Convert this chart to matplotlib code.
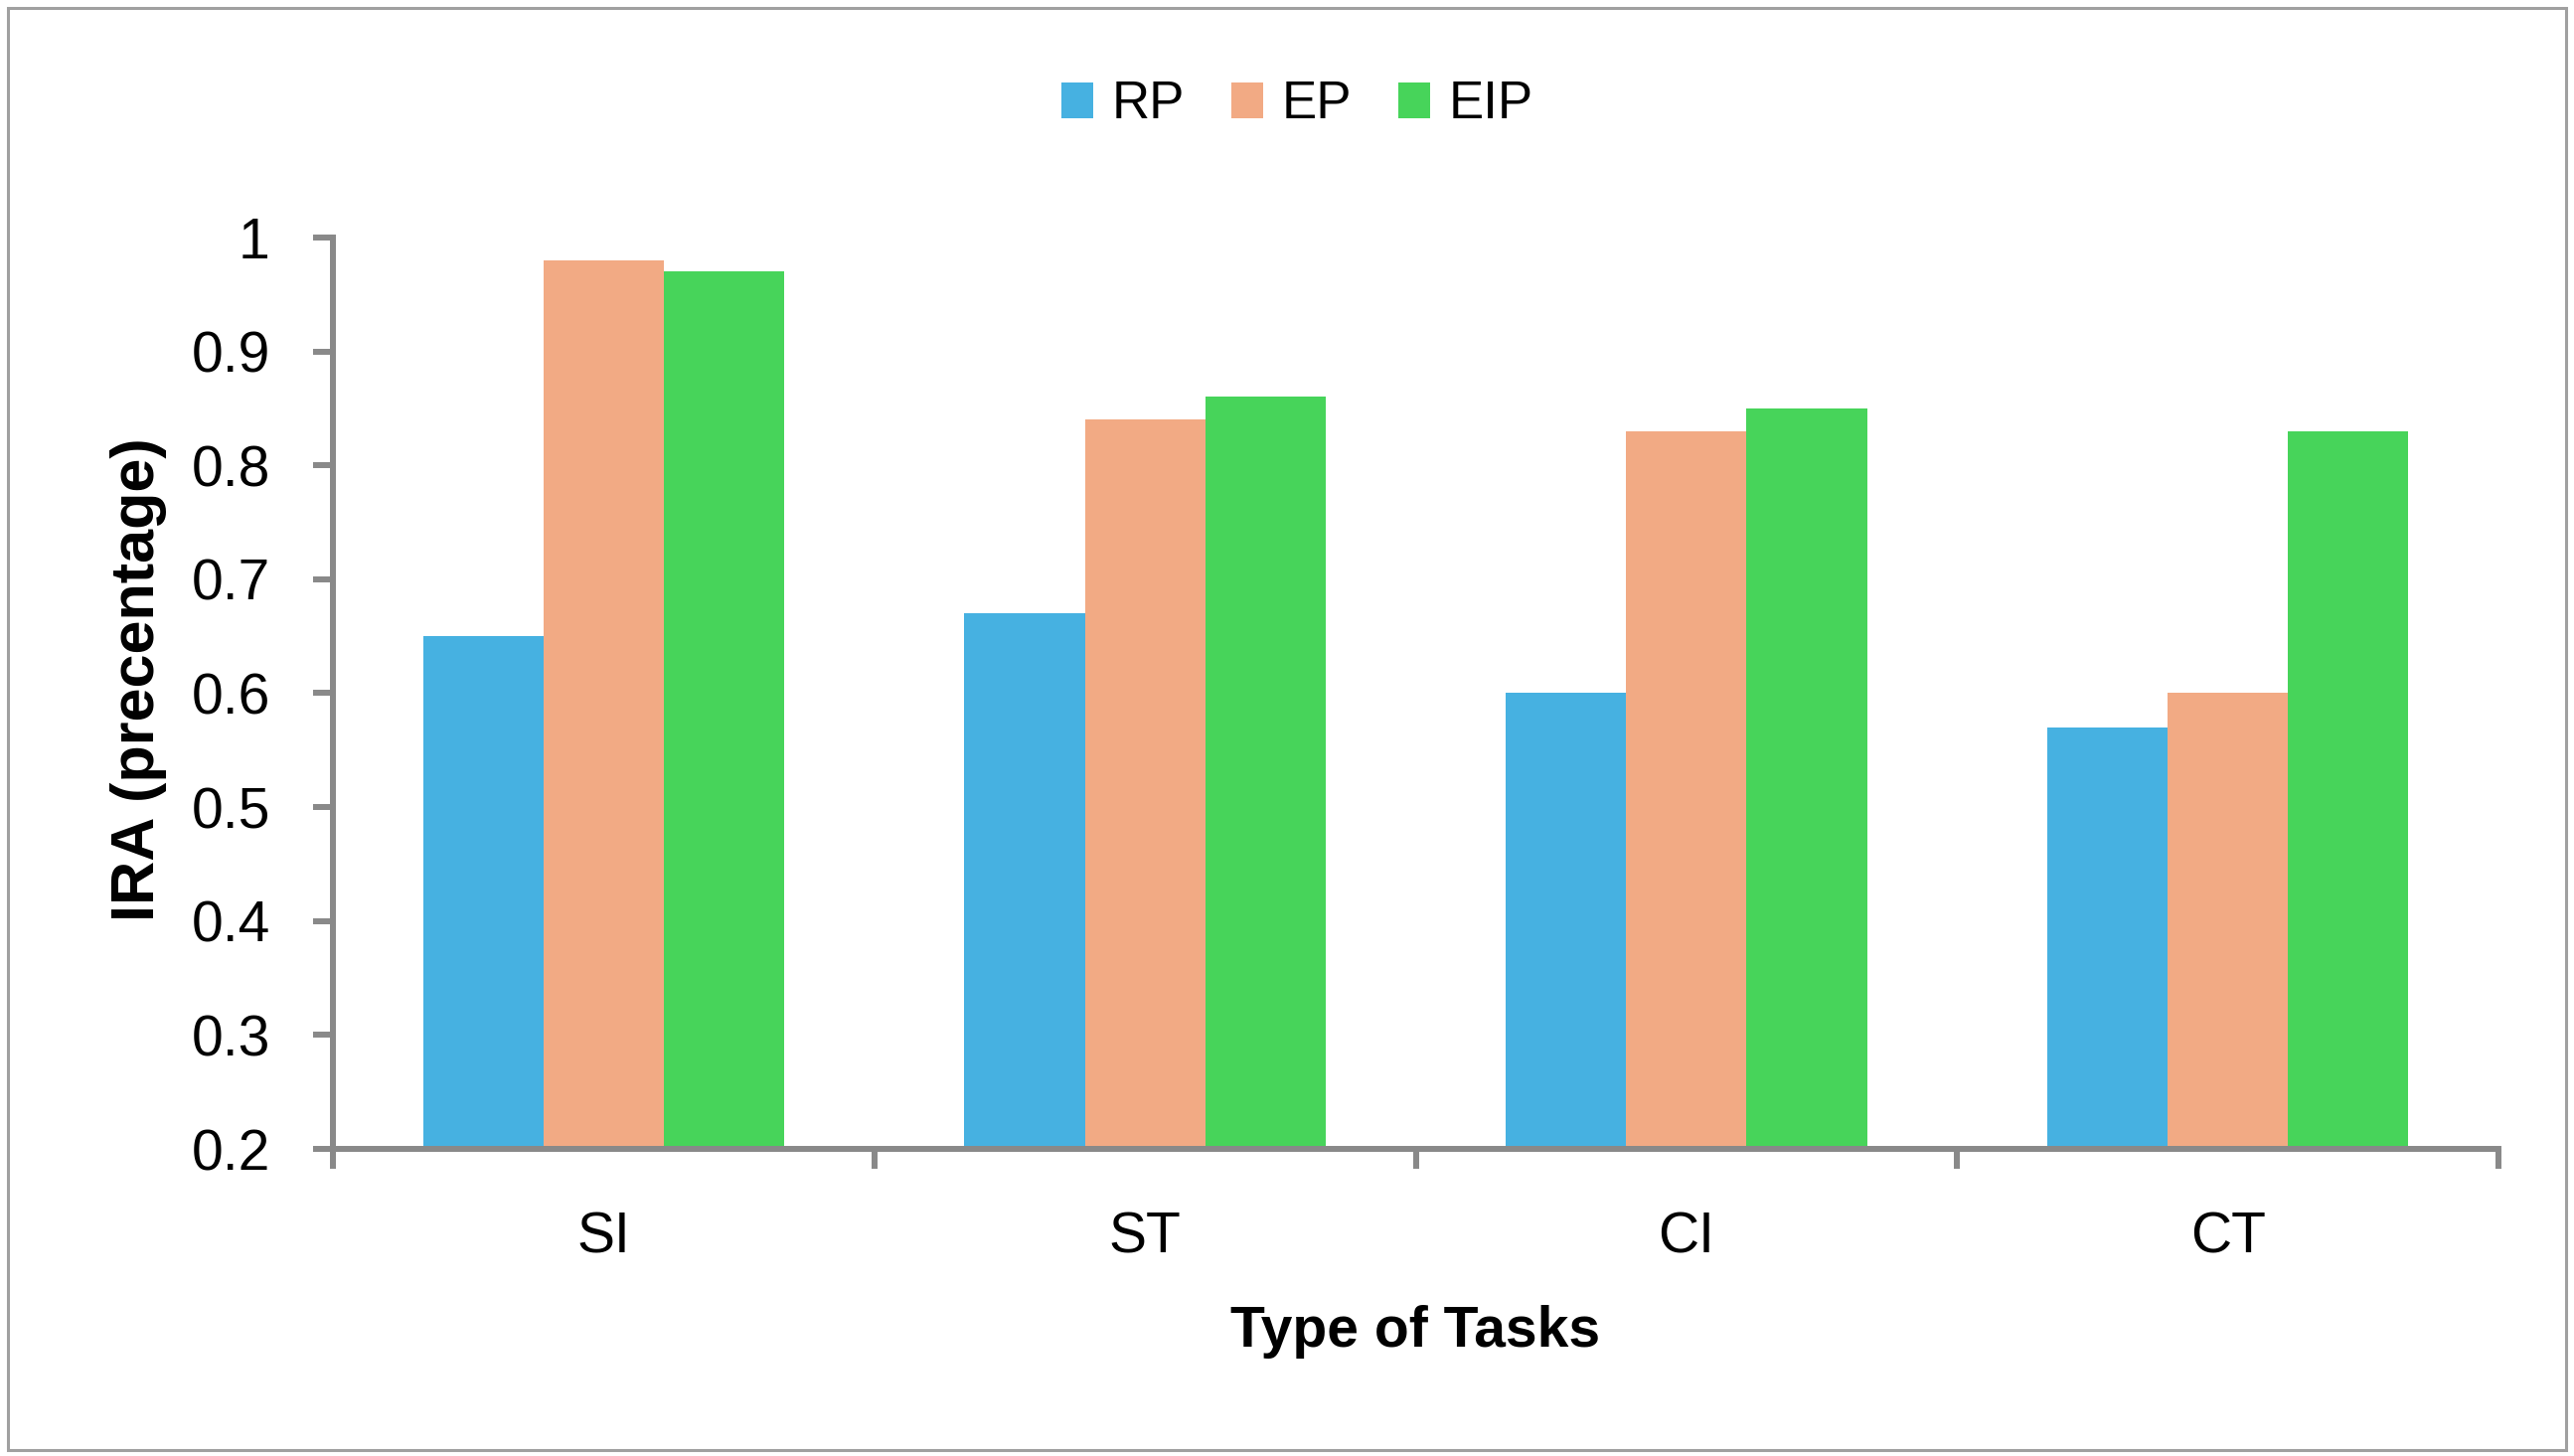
import numpy as np
import matplotlib
matplotlib.use("Agg")
import matplotlib.pyplot as plt
from matplotlib.patches import Rectangle

# data
tasks = ["SI", "ST", "CI", "CT"]
series = ["RP", "EP", "EIP"]
rp = [0.65, 0.67, 0.60, 0.57]
ep = [0.98, 0.84, 0.83, 0.60]
eip = [0.97, 0.86, 0.85, 0.83]
colors = ["#46B1E1", "#F2AA84", "#47D45A"]
yticks = [0.2, 0.3, 0.4, 0.5, 0.6, 0.7, 0.8, 0.9, 1.0]
ytick_labels = ["0.2", "0.3", "0.4", "0.5", "0.6", "0.7", "0.8", "0.9", "1"]

narrow = ["Liberation Sans Narrow", "Liberation Sans", "DejaVu Sans"]
plain = ["Liberation Sans", "DejaVu Sans"]
grey = "#898989"

fig = plt.figure(figsize=(25.9, 14.65), dpi=100)
ax = fig.add_axes([0.1293, 0.2109, 0.9707 - 0.1293, 0.8369 - 0.2109])

x = np.arange(len(tasks))
w = 0.667 / 3
for i, (vals, name) in enumerate(zip([rp, ep, eip], series)):
    ax.bar(x + (i - 1) * w, np.array(vals) - 0.2, w, bottom=0.2,
           color=colors[i], label=name, zorder=2)

ax.set_xlim(-0.5, len(tasks) - 0.5)
ax.set_ylim(0.2, 1.0)

for s in ["top", "right"]:
    ax.spines[s].set_visible(False)
for s in ["left", "bottom"]:
    ax.spines[s].set_color(grey)
    ax.spines[s].set_linewidth(4.3)
    ax.spines[s].set_capstyle("projecting")
ax.spines["left"].set_zorder(3)
ax.spines["bottom"].set_zorder(3)

ax.set_yticks(yticks)
ax.set_yticklabels(ytick_labels, fontfamily=plain, fontsize=41)
ax.tick_params(axis="y", length=14.4, width=4.3, color=grey, pad=31)

ax.set_xticks(x)
ax.set_xticklabels(tasks, fontfamily=narrow, fontsize=41)
ax.set_xticks(np.arange(-0.5, len(tasks)), minor=True)
ax.tick_params(axis="x", which="major", length=0, pad=45)
ax.tick_params(axis="x", which="minor", length=14.4, width=4.3, color=grey)

fig.text(0.054, 0.533, "IRA (precentage)", rotation=90, ha="center", va="center",
         fontfamily=narrow, fontsize=44, fontweight="bold")
fig.text(0.550, 0.085, "Type of Tasks", ha="center", va="center",
         fontfamily=narrow, fontsize=41, fontweight="bold")

leg = fig.legend(loc="center", bbox_to_anchor=(0.504, 0.928), ncol=3, frameon=False,
                 prop={"family": plain, "size": 38}, handlelength=0.6, handleheight=0.7,
                 handletextpad=0.35, columnspacing=0.9)

# outer border
fig.patches.append(Rectangle((8 / 2590, 6 / 1465), 2574 / 2590, 1451 / 1465,
                             transform=fig.transFigure, fill=False,
                             edgecolor="#A0A0A0", linewidth=2.2))

fig.savefig("out.png", dpi=100)
